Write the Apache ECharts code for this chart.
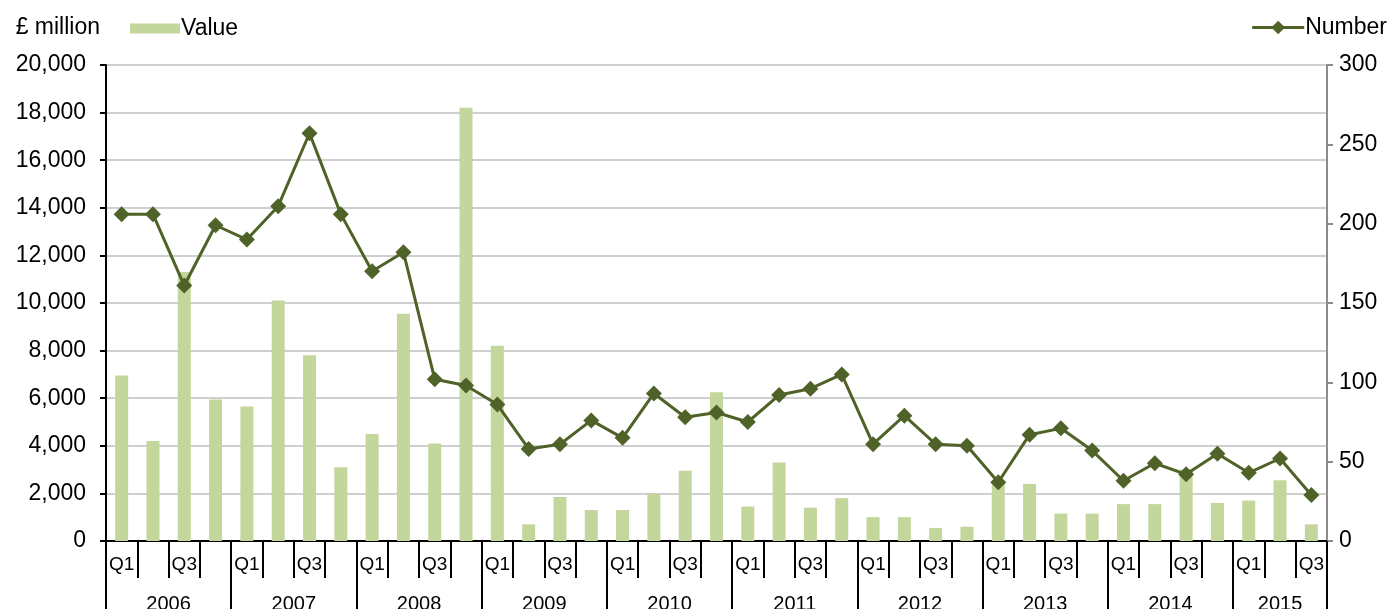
<!DOCTYPE html>
<html>
<head>
<meta charset="utf-8">
<script src="https://cdn.jsdelivr.net/npm/echarts@6/dist/echarts.min.js"></script>
<style>
  html, body { margin: 0; padding: 0; background: #fff; }
  #chart { width: 1394px; height: 609px; }
</style>
</head>
<body>
<div id="chart"></div>
<script>
// quarters 2006 Q1 .. 2015 Q3
const years = ['2006', '2007', '2008', '2009', '2010', '2011', '2012', '2013', '2014', '2015'];
const quarterLabels = ['Q1', '', 'Q3', ''];
const values = [6950, 4200, 11300, 5950, 5650, 10100, 7800, 3100, 4500, 9550, 4100, 18200,
  8200, 700, 1850, 1300, 1300, 2000, 2950, 6250, 1450, 3300, 1400, 1800,
  1000, 1000, 550, 600, 2500, 2400, 1150, 1150, 1550, 1550, 3000, 1600, 1700, 2550, 700];
const numbers = [206, 206, 161, 199, 190, 211, 257, 206, 170, 182, 102, 98,
  86, 58, 61, 76, 65, 93, 78, 81, 75, 92, 96, 105,
  61, 79, 61, 60, 37, 67, 71, 57, 38, 49, 42, 55, 43, 52, 29];

const n = values.length;
const quarterCats = values.map((v, i) => quarterLabels[i % 4]);

// year axis: points every half quarter (boundaryGap false), label at middle of each year
const yearCats = [];
for (let j = 0; j <= n * 2; j++) yearCats.push('');
years.forEach((y, k) => {
  const start = k * 4;
  const end = Math.min(start + 4, n);
  yearCats[start + end] = y; // midpoint (start+end)/2 in quarters -> *2 in half slots
});
const yearTick = (i) => (i % 8 === 0) || i === n * 2;

const font = 'Liberation Sans, Arial, sans-serif';
const chart = echarts.init(document.getElementById('chart'));

chart.setOption({
  backgroundColor: '#fff',
  animation: false,
  textStyle: { fontFamily: font, color: '#000' },
  grid: { left: 106, right: 67, top: 65, bottom: 68, outerBoundsMode: 'none', containLabel: false },
  legend: [
    {
      data: ['Value'],
      left: 125, top: 12,
      icon: 'rect', itemWidth: 50, itemHeight: 10, itemGap: 4,
      textStyle: { fontSize: 23, color: '#000', fontFamily: font, padding: [0, 0, 0, -4] }
    },
    {
      data: ['Number'],
      right: 2, top: 11,
      itemWidth: 52, itemHeight: 17,
      lineStyle: { width: 3 },
      textStyle: { fontSize: 23, color: '#000', fontFamily: font, padding: [0, 0, 0, -4] }
    }
  ],
  xAxis: [
    {
      type: 'category',
      data: quarterCats,
      position: 'bottom',
      axisLine: { lineStyle: { color: '#000', width: 2 } },
      axisTick: { show: true, length: 37, lineStyle: { color: '#000', width: 2 } },
      axisLabel: { interval: 0, fontSize: 19, color: '#000', margin: 14, fontFamily: font }
    },
    {
      type: 'category',
      data: yearCats,
      position: 'bottom',
      boundaryGap: false,
      axisLine: { show: false },
      axisTick: { show: true, length: 80, interval: yearTick, lineStyle: { color: '#000', width: 2 } },
      axisLabel: {
        interval: (i, v) => v !== '',
        fontSize: 20, color: '#000', margin: 53, fontFamily: font
      }
    }
  ],
  yAxis: [
    {
      type: 'value',
      min: 0, max: 20000, interval: 2000,
      name: '£ million',
      nameLocation: 'end',
      nameGap: 26,
      nameTextStyle: { fontSize: 23, color: '#000', align: 'right', padding: [0, 6, 0, 0], fontFamily: font },
      axisLine: { show: true, lineStyle: { color: '#000', width: 2 } },
      axisTick: { show: true, length: 6, lineStyle: { color: '#000', width: 2 } },
      axisLabel: {
        fontSize: 23, color: '#000', margin: 20, fontFamily: font,
        formatter: (v) => v.toLocaleString('en-GB')
      },
      splitLine: { show: true, lineStyle: { color: '#cfcfcf', width: 2 } }
    },
    {
      type: 'value',
      min: 0, max: 300, interval: 50,
      position: 'right',
      axisLine: { show: true, lineStyle: { color: '#8c8c8c', width: 2 } },
      axisTick: { show: true, length: 6, lineStyle: { color: '#8c8c8c', width: 2 } },
      axisLabel: { fontSize: 23, color: '#000', margin: 12, fontFamily: font },
      splitLine: { show: false }
    }
  ],
  series: [
    {
      name: 'Value',
      type: 'bar',
      data: values,
      xAxisIndex: 0,
      yAxisIndex: 0,
      barWidth: 13,
      itemStyle: { color: '#c3d69b' }
    },
    {
      name: 'Number',
      type: 'line',
      data: numbers,
      xAxisIndex: 0,
      yAxisIndex: 1,
      symbol: 'diamond',
      symbolSize: 16,
      lineStyle: { color: '#4f6228', width: 3 },
      itemStyle: { color: '#4f6228' }
    }
  ]
});

window.addEventListener('resize', () => chart.resize());
</script>
</body>
</html>
